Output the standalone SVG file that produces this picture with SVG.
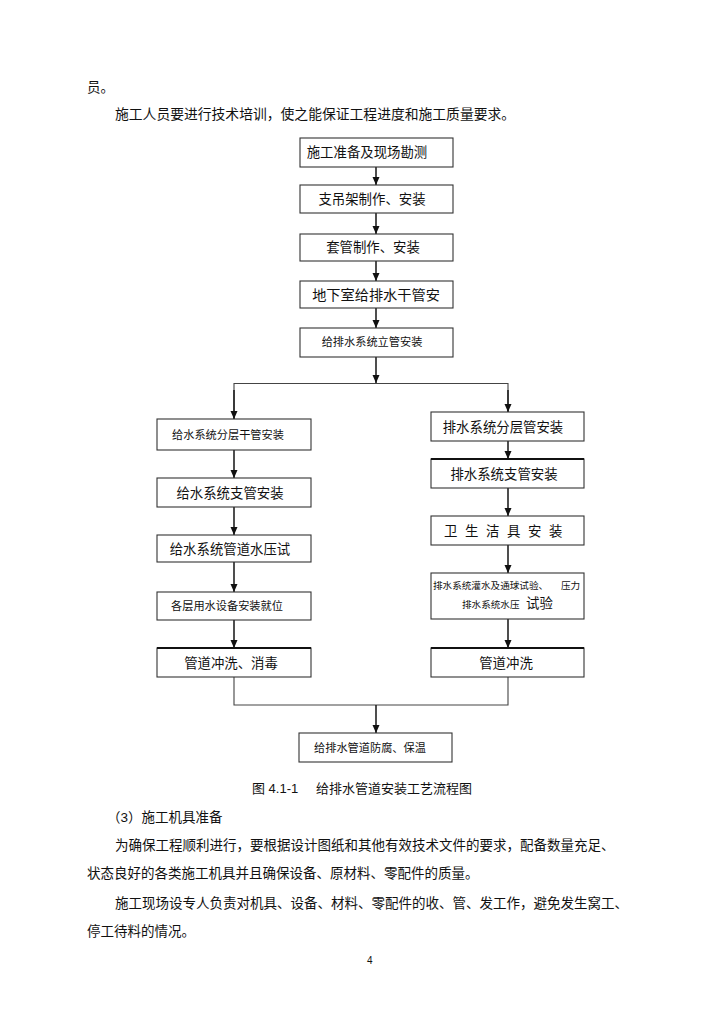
<svg xmlns="http://www.w3.org/2000/svg" width="724" height="1024" viewBox="0 0 724 1024">
<style>
text{font-family:"Liberation Sans","Noto Sans CJK SC",sans-serif;fill:#111}
.body{font-size:13.5px}
.box{fill:#fff;stroke:#333;stroke-width:1.1}
.thick{stroke:#111;stroke-width:2.2}
.t{font-size:13.4px;text-anchor:middle}
.s{font-size:11.2px;text-anchor:middle}
.tiny{font-size:9.6px}
.conn{fill:none;stroke:#222;stroke-width:1.6}
.line{fill:none;stroke:#444;stroke-width:1.1}
</style>
<defs>
<marker id="ah" viewBox="0 0 8 8" refX="8" refY="4" markerWidth="8" markerHeight="8" markerUnits="userSpaceOnUse" orient="auto">
<path d="M0,0.5 L8,4 L0,7.5 Z" fill="#111"/>
</marker>
</defs>
<rect width="724" height="1024" fill="#fff"/>

<g id="body-top">
<text class="body" x="87" y="92">员。</text>
<text class="body" x="115" y="119" style="font-size:13.8px">施工人员要进行技术培训，使之能保证工程进度和施工质量要求。</text>
</g>

<g id="connectors">
<line class="conn" x1="376" y1="167" x2="376" y2="185" marker-end="url(#ah)"/>
<line class="conn" x1="376" y1="213" x2="376" y2="234" marker-end="url(#ah)"/>
<line class="conn" x1="376" y1="261" x2="376" y2="281" marker-end="url(#ah)"/>
<line class="conn" x1="376" y1="308" x2="376" y2="328" marker-end="url(#ah)"/>
<line class="conn" x1="376" y1="357" x2="376" y2="383" marker-end="url(#ah)"/>
<polyline class="line" points="234,419 234,383.5 508,383.5 508,412"/>
<line class="conn" x1="234" y1="390" x2="234" y2="419" marker-end="url(#ah)"/>
<line class="conn" x1="508" y1="390" x2="508" y2="412" marker-end="url(#ah)"/>
<line class="conn" x1="234" y1="450" x2="234" y2="478" marker-end="url(#ah)"/>
<line class="conn" x1="234" y1="507" x2="234" y2="535" marker-end="url(#ah)"/>
<line class="conn" x1="234" y1="562" x2="234" y2="592" marker-end="url(#ah)"/>
<line class="conn" x1="234" y1="620" x2="234" y2="648" marker-end="url(#ah)"/>
<line class="conn" x1="508" y1="441" x2="508" y2="459" marker-end="url(#ah)"/>
<line class="conn" x1="508" y1="488" x2="508" y2="516" marker-end="url(#ah)"/>
<line class="conn" x1="508" y1="545" x2="508" y2="573" marker-end="url(#ah)"/>
<line class="conn" x1="508" y1="619" x2="508" y2="648" marker-end="url(#ah)"/>
<polyline class="line" points="234,677 234,705 508,705 508,677"/>
<line class="conn" x1="376" y1="705" x2="376" y2="733" marker-end="url(#ah)"/>
</g>

<g id="n1"><rect class="box" x="300" y="138" width="153" height="29"/><text class="t" x="367" y="157">施工准备及现场勘测</text></g>
<g id="n2"><rect class="box" x="300" y="185" width="153" height="28"/><text class="t" x="372" y="204">支吊架制作、安装</text></g>
<g id="n3"><rect class="box" x="300" y="234" width="153" height="27"/><text class="t" x="373" y="252">套管制作、安装</text></g>
<g id="n4"><rect class="box" x="300" y="281" width="153" height="27"/><text class="t" x="376" y="300" style="font-size:14.2px">地下室给排水干管安</text></g>
<g id="n5"><rect class="box" x="300" y="328" width="153" height="29"/><text class="s" x="372" y="346">给排水系统立管安装</text></g>

<g id="l1"><rect class="box" x="157" y="419" width="154" height="31"/><text class="s" x="228" y="438.5">给水系统分层干管安装</text></g>
<g id="l2"><rect class="box" x="157" y="478" width="154" height="29"/><text class="t" x="230" y="497.5">给水系统支管安装</text></g>
<g id="l3"><rect class="box" x="157" y="535" width="154" height="27"/><text class="t" x="230" y="553.5">给水系统管道水压试</text></g>
<g id="l4"><rect class="box" x="157" y="592" width="154" height="28"/><text class="s" x="227" y="610">各层用水设备安装就位</text></g>
<g id="l5"><rect class="box" x="157" y="648" width="154" height="29"/><line class="thick" x1="157" y1="648" x2="311" y2="648"/><text class="t" x="231" y="667.5">管道冲洗、消毒</text></g>

<g id="r1"><rect class="box" x="431" y="412" width="153" height="29"/><text class="t" x="503" y="431.5">排水系统分层管安装</text></g>
<g id="r2"><rect class="box" x="431" y="459" width="153" height="29"/><line class="thick" x1="431" y1="459" x2="584" y2="459"/><text class="t" x="504" y="478.5">排水系统支管安装</text></g>
<g id="r3"><rect class="box" x="431" y="516" width="153" height="29"/><text class="t" x="507" y="535.5" style="letter-spacing:7.6px">卫生洁具安装</text></g>
<g id="r4"><rect class="box" x="431" y="573" width="153" height="46"/>
<text class="tiny" x="433" y="588.5">排水系统灌水及通球试验、<tspan x="561">压力</tspan></text>
<text class="tiny" x="462" y="607.5">排水系统水压<tspan x="526" style="font-size:13.4px">试验</tspan></text>
</g>
<g id="r5"><rect class="box" x="431" y="648" width="153" height="29"/><line class="thick" x1="431" y1="648" x2="584" y2="648"/><text class="t" x="506" y="667.5">管道冲洗</text></g>

<g id="nf"><rect class="box" x="299" y="733" width="153" height="29"/><text class="s" x="370" y="751.5">给排水管道防腐、保温</text></g>

<g id="caption">
<text style="font-size:13px" x="252" y="793">图 4.1-1</text>
<text style="font-size:13px" x="316" y="793">给排水管道安装工艺流程图</text>
</g>

<g id="body-bottom">
<text class="body" x="107" y="822">（3）施工机具准备</text>
<text class="body" x="115" y="850">为确保工程顺利进行，要根据设计图纸和其他有效技术文件的要求，配备数量充足、</text>
<text class="body" x="87" y="878">状态良好的各类施工机具并且确保设备、原材料、零配件的质量。</text>
<text class="body" x="115" y="908">施工现场设专人负责对机具、设备、材料、零配件的收、管、发工作，避免发生窝工、</text>
<text class="body" x="87" y="936">停工待料的情况。</text>
<text style="font-size:10px" x="367" y="964">4</text>
</g>
</svg>
